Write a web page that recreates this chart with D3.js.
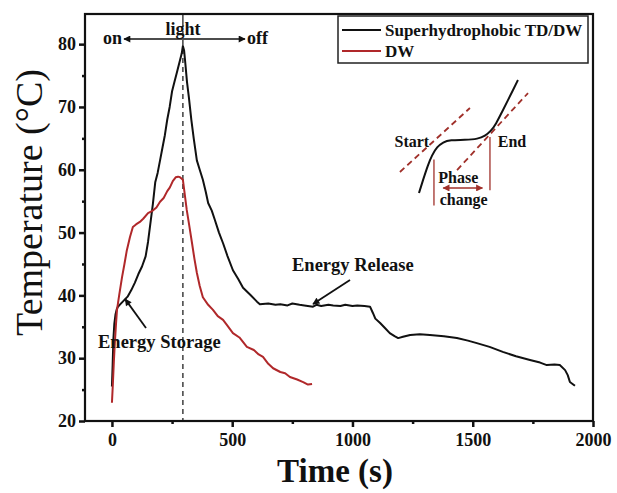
<!DOCTYPE html>
<html>
<head>
<meta charset="utf-8">
<script src="https://cdn.jsdelivr.net/npm/d3@7"></script>
<style>
  body { margin: 0; background: #fff; }
  text { font-family: "Liberation Serif", "Times New Roman", serif; }
</style>
</head>
<body>
<svg id="chart" width="617" height="493"></svg>
<script>
// Superhydrophobic TD/DW curve (time s, temperature °C)
let tdTime = [0, 3, 6, 10, 15, 20, 25, 35, 50, 65, 80, 95, 110, 125, 140, 150, 160, 170, 180, 190, 200, 210, 220, 230, 240, 250, 260, 270, 280, 290, 295, 300, 305, 312, 320, 330, 340, 353, 365, 378, 390, 400, 415, 428, 445, 462, 480, 503, 525, 545, 575, 603, 615, 650, 680, 700, 730, 750, 780, 800, 836, 850, 870, 900, 920, 950, 970, 1000, 1020, 1050, 1073, 1085, 1095, 1115, 1135, 1155, 1175, 1190, 1210, 1240, 1280, 1322, 1380, 1434, 1480, 1517, 1570, 1625, 1680, 1738, 1780, 1808, 1840, 1862, 1884, 1895, 1904, 1915, 1925]
let tdTemp = [25.5, 29, 33, 35.5, 37, 37.8, 38.2, 38.6, 39.2, 39.8, 40.8, 42, 43.4, 44.6, 46.2, 48.5, 51.5, 54.5, 58, 59.5, 61.5, 63.5, 65.5, 68, 70, 72.5, 74, 75.5, 77, 78.5, 79.7, 79, 77, 74, 71.5, 68, 65, 61.5, 60, 58.4, 56.5, 54.7, 53.5, 52, 50, 48.3, 46.3, 44, 42.6, 41.2, 40.1, 39, 38.6, 38.7, 38.5, 38.6, 38.4, 38.7, 38.5, 38.4, 38.2, 38.5, 38.3, 38.5, 38.4, 38.3, 38.5, 38.3, 38.4, 38.3, 38.2, 37.2, 36.3, 35.6, 34.8, 34, 33.5, 33.2, 33.4, 33.7, 33.8, 33.7, 33.5, 33.2, 32.8, 32.4, 31.8, 31, 30.3, 29.7, 29.3, 28.9, 29.0, 28.9, 28.1, 27.3, 26.2, 25.9, 25.6]

// DW curve
let dwTime = [0, 4, 8, 12, 17, 21, 30, 42, 52, 62, 75, 87, 100, 116, 130, 150, 170, 185, 200, 215, 230, 241, 253, 265, 275, 283, 295, 303, 311, 322, 333, 343, 353, 365, 378, 400, 420, 440, 462, 480, 503, 530, 561, 590, 610, 628, 650, 670, 700, 720, 740, 770, 795, 815, 832]
let dwTemp = [22.9, 26, 29.5, 32.4, 35.5, 37.7, 40, 42.9, 45, 47.2, 49.3, 50.9, 51.3, 51.7, 52.2, 53.1, 53.5, 54, 54.9, 55.5, 56.6, 57.2, 58.2, 58.8, 58.9, 58.8, 58.4, 56, 53.6, 51, 48.3, 45.8, 43.6, 41.5, 39.7, 38.5, 37.7, 36.7, 36.1, 35.2, 34, 33.3, 31.8, 31.3, 30.6, 30.2, 29.1, 28.4, 27.8, 27.6, 27, 26.6, 26.2, 25.8, 25.9]

let xTicks = [0, 500, 1000, 1500, 2000]
let xMinor = [250, 750, 1250, 1750]
let yTicks = [20, 30, 40, 50, 60, 70, 80]
let yMinor = [25, 35, 45, 55, 65, 75]
let lightTime = 295

let seriesNames = ["Superhydrophobic TD/DW", "DW"]
let seriesColors = ["#111111", "#b0282a"]

// inset schematic, local units 0..100
let insetCurveU = [20.7, 23.6, 27.1, 30, 33.6, 37.9, 42.9, 53.6, 62.9, 67.9, 72.1, 75.7, 80, 84.3, 87.9, 91.4]
let insetCurveV = [5, 14.3, 25, 32.1, 37.9, 41.4, 42.9, 42.9, 43.6, 45.7, 49.3, 54.3, 62.9, 71.4, 78.6, 85.7]
let insetTangents = [[[7.1, 20], [57.1, 65.7]], [[47.9, 21.4], [98.6, 76.4]]]

let svg = d3.select("#chart")
let plot = { left: 85, right: 593, top: 14, bottom: 421 }

let x = d3.scaleLinear().domain([-112, 2000]).range([plot.left, plot.right])
let y = d3.scaleLinear().domain([20, 84.8]).range([plot.bottom, plot.top])

let defs = svg.append("defs")
let addArrow = (id, color) => {
  defs.append("marker")
      .attr("id", id)
      .attr("viewBox", "0 0 10 10")
      .attr("refX", 9).attr("refY", 5)
      .attr("markerWidth", 9).attr("markerHeight", 7)
      .attr("markerUnits", "userSpaceOnUse")
      .attr("orient", "auto-start-reverse")
      .append("path")
      .attr("d", "M0,0 L10,5 L0,10 z")
      .attr("fill", color)
}
addArrow("arrowBlack", "#111")
addArrow("arrowRed", "#a0302a")

// dashed light line
svg.append("line")
   .attr("x1", x(lightTime)).attr("x2", x(lightTime))
   .attr("y1", plot.top + 8).attr("y2", plot.bottom)
   .attr("stroke", "#222")
   .attr("stroke-width", 1.3)
   .attr("stroke-dasharray", "5,4")
svg.append("line")
   .attr("x1", x(lightTime)).attr("x2", x(lightTime))
   .attr("y1", plot.top).attr("y2", plot.top + 8)
   .attr("stroke", "#222").attr("stroke-width", 1.3)

//draw curves
let line = d3.line().x(d => x(d[0])).y(d => y(d[1]))
let tdData = tdTime.map((t, i) => [t, tdTemp[i]])
let dwData = dwTime.map((t, i) => [t, dwTemp[i]])

svg.append("path")
   .datum(tdData)
   .attr("d", line)
   .attr("fill", "none")
   .attr("stroke", seriesColors[0])
   .attr("stroke-width", 2)
   .attr("stroke-linejoin", "round")

svg.append("path")
   .datum(dwData)
   .attr("d", line)
   .attr("fill", "none")
   .attr("stroke", seriesColors[1])
   .attr("stroke-width", 2)
   .attr("stroke-linejoin", "round")

//axes
let yAxis = d3.axisLeft(y).tickValues(yTicks).tickSize(6).tickPadding(3).tickFormat(d3.format("d"))
let yAxisMinor = d3.axisLeft(y).tickValues(yMinor).tickSize(3).tickFormat("")
let xAxis = d3.axisBottom(x).tickValues(xTicks).tickSize(6).tickPadding(6).tickFormat(d3.format("d"))
let xAxisMinor = d3.axisBottom(x).tickValues(xMinor).tickSize(3).tickFormat("")

let styleAxis = (g) => {
  g.attr("font-family", null)
  g.select(".domain").remove()
  g.selectAll("line").attr("stroke", "#111").attr("stroke-width", 2.5)
  g.selectAll("text")
   .attr("fill", "#111")
   .style("font-size", "18px")
   .style("font-weight", "bold")
}

svg.append("g").attr("transform", `translate(${plot.left},0)`).call(yAxis).call(styleAxis)
svg.append("g").attr("transform", `translate(${plot.left},0)`).call(yAxisMinor).call(styleAxis)
svg.append("g").attr("transform", `translate(0,${plot.bottom})`).call(xAxis).call(styleAxis)
svg.append("g").attr("transform", `translate(0,${plot.bottom})`).call(xAxisMinor).call(styleAxis)

//frame
svg.append("rect")
   .attr("x", plot.left).attr("y", plot.top)
   .attr("width", plot.right - plot.left).attr("height", plot.bottom - plot.top)
   .attr("fill", "none").attr("stroke", "#111").attr("stroke-width", 2.2)

//axis titles
svg.append("text")
   .attr("transform", `translate(42, ${(plot.top + plot.bottom) / 2 - 15}) rotate(-90)`)
   .attr("text-anchor", "middle")
   .style("font-size", "38px")
   .attr("fill", "#111")
   .text("Temperature (°C)")

svg.append("text")
   .attr("x", 335).attr("y", 482)
   .attr("text-anchor", "middle")
   .style("font-size", "33px")
   .style("font-weight", "bold")
   .attr("fill", "#111")
   .text("Time (s)")

//legend
let legend = svg.append("g")
legend.append("rect")
      .attr("x", 338).attr("y", 16).attr("width", 250).attr("height", 47)
      .attr("fill", "#fff").attr("stroke", "#222").attr("stroke-width", 1.5)
seriesNames.forEach((name, i) => {
  let ly = 30 + i * 21
  legend.append("line")
        .attr("x1", 342).attr("x2", 381).attr("y1", ly).attr("y2", ly)
        .attr("stroke", seriesColors[i]).attr("stroke-width", 2)
  legend.append("text")
        .attr("x", 385).attr("y", ly + 6)
        .style("font-size", "17px").style("font-weight", "bold")
        .attr("fill", "#111")
        .text(name)
})

//light on / off annotation
let lightY = 39
svg.append("line")
   .attr("x1", x(lightTime)).attr("x2", 124).attr("y1", lightY).attr("y2", lightY)
   .attr("stroke", "#111").attr("stroke-width", 1.5).attr("marker-end", "url(#arrowBlack)")
svg.append("line")
   .attr("x1", x(lightTime)).attr("x2", 245).attr("y1", lightY).attr("y2", lightY)
   .attr("stroke", "#111").attr("stroke-width", 1.5).attr("marker-end", "url(#arrowBlack)")
svg.append("text").attr("x", x(lightTime)).attr("y", 35).attr("text-anchor", "middle")
   .style("font-size", "18px").style("font-weight", "bold").attr("fill", "#111").text("light")
svg.append("text").attr("x", 122).attr("y", lightY + 5).attr("text-anchor", "end")
   .style("font-size", "18px").style("font-weight", "bold").attr("fill", "#111").text("on")
svg.append("text").attr("x", 247).attr("y", lightY + 5)
   .style("font-size", "18px").style("font-weight", "bold").attr("fill", "#111").text("off")

//energy labels
svg.append("text").attr("x", 292).attr("y", 271)
   .style("font-size", "18.5px").style("font-weight", "bold").attr("fill", "#111").text("Energy Release")
svg.append("line")
   .attr("x1", 350).attr("y1", 280).attr("x2", x(836)).attr("y2", y(38.3) - 2)
   .attr("stroke", "#111").attr("stroke-width", 1.8).attr("marker-end", "url(#arrowBlack)")

svg.append("text").attr("x", 98).attr("y", 348)
   .style("font-size", "18.5px").style("font-weight", "bold").attr("fill", "#111").text("Energy Storage")
svg.append("line")
   .attr("x1", 146).attr("y1", 328).attr("x2", x(55)).attr("y2", y(39.4))
   .attr("stroke", "#111").attr("stroke-width", 1.8).attr("marker-end", "url(#arrowBlack)")

//inset schematic
let ix = d3.scaleLinear().domain([0, 100]).range([390, 530])
let iy = d3.scaleLinear().domain([0, 100]).range([200, 60])
let inset = svg.append("g")
let insetRed = "#a0302a"

insetTangents.forEach(seg => {
  inset.append("line")
       .attr("x1", ix(seg[0][0])).attr("y1", iy(seg[0][1]))
       .attr("x2", ix(seg[1][0])).attr("y2", iy(seg[1][1]))
       .attr("stroke", insetRed).attr("stroke-width", 1.8).attr("stroke-dasharray", "6,4")
})
inset.append("path")
     .datum(insetCurveU.map((u, i) => [u, insetCurveV[i]]))
     .attr("d", d3.line().x(d => ix(d[0])).y(d => iy(d[1])).curve(d3.curveBasis))
     .attr("fill", "none").attr("stroke", "#111").attr("stroke-width", 2)

inset.append("line")
     .attr("x1", ix(31.4)).attr("x2", ix(31.4)).attr("y1", iy(29)).attr("y2", iy(-4))
     .attr("stroke", insetRed).attr("stroke-width", 1.3)
inset.append("line")
     .attr("x1", ix(71.4)).attr("x2", ix(71.4)).attr("y1", iy(45)).attr("y2", iy(7))
     .attr("stroke", insetRed).attr("stroke-width", 1.3)
inset.append("line")
     .attr("x1", ix(38)).attr("x2", ix(66)).attr("y1", iy(8.6)).attr("y2", iy(8.6))
     .attr("stroke", insetRed).attr("stroke-width", 1.5)
     .attr("marker-start", "url(#arrowRed)").attr("marker-end", "url(#arrowRed)")

let insetText = (u, v, anchor, s) => {
  inset.append("text")
       .attr("x", ix(u)).attr("y", iy(v) + 5)
       .attr("text-anchor", anchor)
       .style("font-size", "16px").style("font-weight", "bold").attr("fill", "#111")
       .text(s)
}
insetText(28, 41.4, "end", "Start")
insetText(77, 41.4, "start", "End")
insetText(34.5, 15.7, "start", "Phase")
insetText(35.5, 0, "start", "change")
</script>
</body>
</html>
